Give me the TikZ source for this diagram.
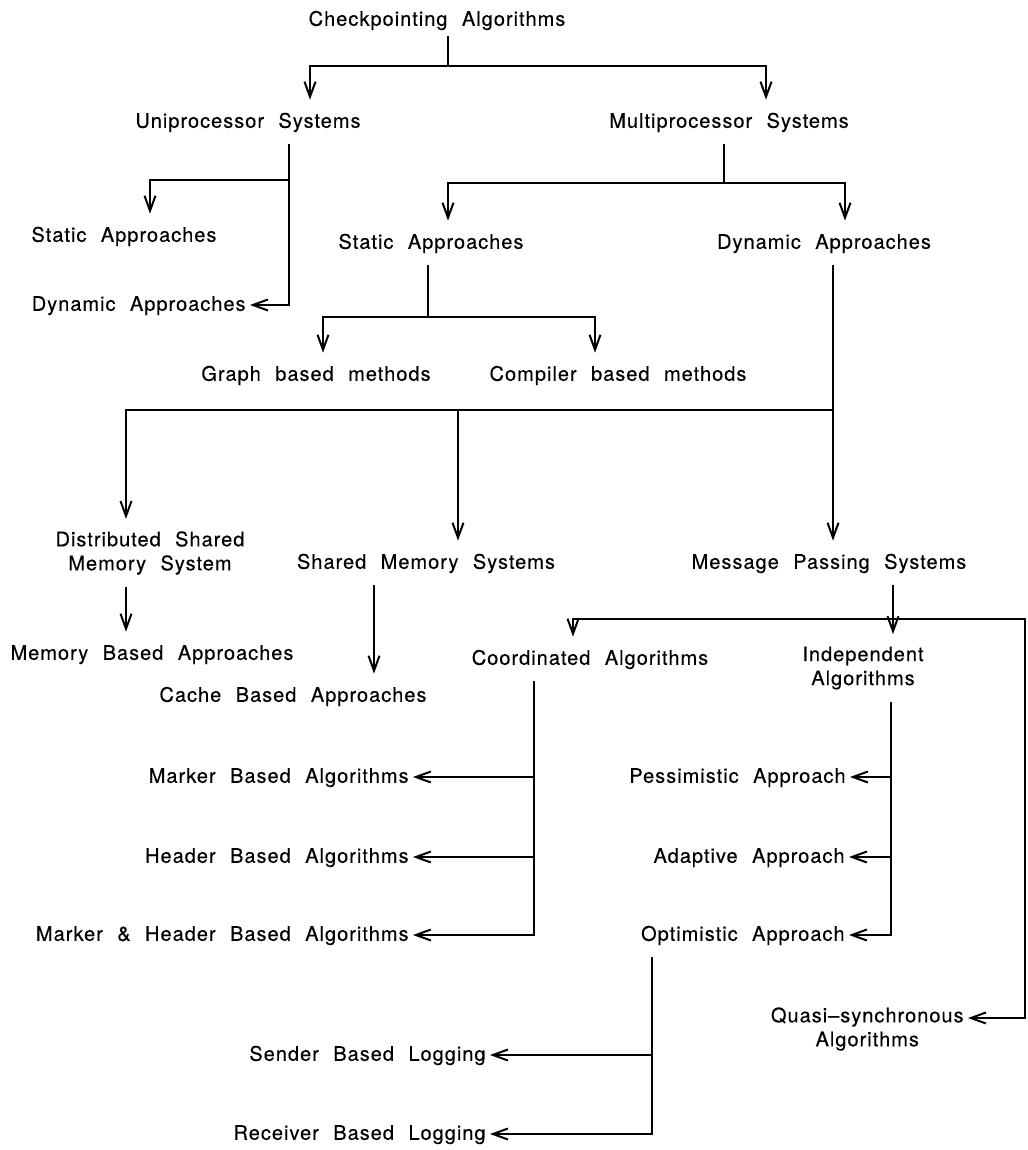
\documentclass[tikz,border=0pt]{standalone}
\usepackage{fontspec}
\setmainfont{TeX Gyre Heros}[LetterSpace=5,WordSpace=2.2,FakeBold=0.3]
\usepackage{tikz}
\usetikzlibrary{arrows.meta}

\begin{document}
\begin{tikzpicture}[x=0.5pt,y=-0.5pt]
\fontsize{10}{12}\selectfont
\tikzstyle{basenode}=[inner xsep=2pt, inner ysep=6pt, align=center];
\tikzstyle{lbl}=[basenode, text height=1.5ex, text depth=0.4ex];
\tikzstyle{lbl2}=[basenode];
\tikzstyle{leaf}=[lbl, anchor=east];
\tikzstyle{basearr}=[line width=1pt, black];
\tikzstyle{line}=[basearr];
\tikzstyle{arr}=[basearr, -{Straight Barb[length=7.5pt,width=5.5pt]}];

\useasboundingbox (0,0) rectangle (1027,1150);

% top levels
\node[lbl, inner ysep=3pt](ckpt) at (437,20) {Checkpointing Algorithms};
\node[lbl](uni) at (248,122) {Uniprocessor Systems};
\node[lbl](multi) at (729,122) {Multiprocessor Systems};
\node[lbl](ustat) at (124,236) {Static Approaches};
\node[leaf](udyn) at (250,305) {Dynamic Approaches};
\node[lbl](mstat) at (431,243) {Static Approaches};
\node[lbl](mdyn) at (824,243) {Dynamic Approaches};
\node[lbl](graph) at (316,375) {Graph based methods};
\node[lbl](comp) at (618,375) {Compiler based methods};

% dynamic approaches
\node[lbl2](dsm) at (150,553) {Distributed Shared\\Memory System};
\node[lbl](sms) at (426,563) {Shared Memory Systems};
\node[lbl](mps) at (829,563) {Message Passing Systems};
\node[lbl](mba) at (152,654) {Memory Based Approaches};
\node[lbl](cba) at (293,696) {Cache Based Approaches};
\node[lbl](coord) at (590,659) {Coordinated Algorithms};
\node[lbl2](indep) at (863,668) {Independent\\Algorithms};

% leaves
\node[leaf](marker) at (413,777) {Marker Based Algorithms};
\node[leaf](header) at (413,857) {Header Based Algorithms};
\node[leaf](mh) at (413,935) {Marker \& Header Based Algorithms};
\node[leaf](pess) at (850,777) {Pessimistic Approach};
\node[leaf](adap) at (849,857) {Adaptive Approach};
\node[leaf](opt) at (849,935) {Optimistic Approach};
\node[leaf](send) at (490,1055) {Sender Based Logging};
\node[leaf](recv) at (490,1134) {Receiver Based Logging};
\node[lbl2, anchor=east](quasi) at (968,1029) {Quasi--synchronous\\Algorithms};

% junctions and stems
\coordinate (j0) at (448,66);
\coordinate (j1) at (289,180);
\coordinate (j2) at (724,183);
\coordinate (j3) at (428,317);
\coordinate (j4) at (833,410);
\coordinate (j5) at (893,619);
\coordinate (cs) at (534,0);
\coordinate (is) at (891,0);
\coordinate (os) at (652,0);
\coordinate (qin) at ([yshift=5.5pt]quasi.east);

\draw[line] (ckpt.south -| j0) -- (j0);
\draw[arr] (j0) -| (uni.north -| 310,0);
\draw[arr] (j0) -| (multi.north -| 766,0);

\draw[arr] (uni.south -| j1) -- (j1) -| (ustat.north -| 150,0);
\draw[arr] (j1) |- (udyn.east);

\draw[line] (multi.south -| j2) -- (j2);
\draw[arr] (j2) -| (mstat.north -| 448,0);
\draw[arr] (j2) -| (mdyn.north -| 845,0);

\draw[line] (mstat.south -| j3) -- (j3);
\draw[arr] (j3) -| (graph.north -| 323,0);
\draw[arr] (j3) -| (comp.north -| 595,0);

\draw[arr] (mdyn.south -| j4) -- (mps.north -| j4);
\draw[arr] (j4) -| (dsm.north -| 126,0);
\draw[arr] (j4) -| (sms.north -| 458,0);

\draw[arr] (dsm.south -| 126,0) -- (mba.north -| 126,0);
\draw[arr] (sms.south -| 374,0) -- (cba.north -| 374,0);

\draw[arr] (mps.south -| j5) -- (indep.north -| j5);
\draw[arr] (j5) -| (coord.north -| 573,0);
\draw[arr] (j5) -| (qin -| 1025,0) -- (qin);

\draw[arr] (coord.south -| cs) |- (mh.east);
\draw[arr] (cs |- marker) -- (marker.east);
\draw[arr] (cs |- header) -- (header.east);

\draw[arr] (indep.south -| is) |- (opt.east);
\draw[arr] (is |- pess) -- (pess.east);
\draw[arr] (is |- adap) -- (adap.east);

\draw[arr] (opt.south -| os) |- (recv.east);
\draw[arr] (os |- send) -- (send.east);

\end{tikzpicture}
\end{document}
